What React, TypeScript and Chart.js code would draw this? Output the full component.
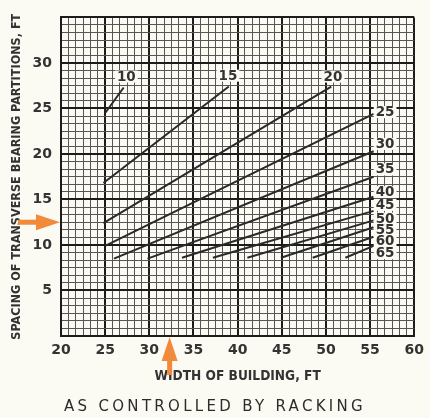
import React, { useEffect, useRef } from "react";
import { Chart, registerables } from "chart.js";

Chart.register(...registerables);

// ---- data ----
const xTickLabels = [20, 25, 30, 35, 40, 45, 50, 55, 60];
const yTickLabels = [5, 10, 15, 20, 25, 30];
const seriesNames = ["10", "15", "20", "25", "30", "35", "40", "45", "50", "55", "60", "65"];
const startX = [25, 24.8, 24.8, 25, 26, 29.8, 33.7, 37.2, 41.1, 44.9, 48.5, 52.2];
const startY = [24.5, 16.8, 12.4, 9.9, 8.5, 8.5, 8.6, 8.6, 8.6, 8.6, 8.6, 8.6];
const endX = [27.1, 39, 50.6, 55.4, 55.4, 55.4, 55.4, 55.4, 55.4, 55.4, 55.4, 55.4];
const endY = [27.3, 27.4, 27.4, 24.4, 20.3, 17.5, 15.3, 13.75, 12.7, 11.95, 10.9, 9.9];
const labelX = [27.4, 38.9, 50.8, 56.7, 56.7, 56.7, 56.7, 56.7, 56.7, 56.7, 56.7, 56.7];
const labelY = [28.5, 28.6, 28.5, 24.6, 21.1, 18.3, 15.8, 14.4, 12.9, 11.6, 10.4, 9.1];
const markedSpacing = 12.5;
const markedWidth = 32.3;

const X_MIN = 20, X_MAX = 60, Y_MIN = 0, Y_MAX = 35;
const MINOR_PER_MAJOR = 6;

const BG = "#fcfbf3";
const INK = "#2a2a2a";
const TEXT = "#333333";
const ORANGE = "#f28a3c";
const NUM_FONT = "'DejaVu Sans', sans-serif";
const COND_FONT = "'DejaVu Sans Condensed', 'DejaVu Sans', sans-serif";

const isMajor = (v: number) => Math.abs(v / 5 - Math.round(v / 5)) < 1e-6;
const inList = (list: number[], v: number) => list.some((t) => Math.abs(t - v) < 1e-6);

function gridTicks(min: number, max: number) {
  const out: { value: number }[] = [];
  const step = 5 / MINOR_PER_MAJOR;
  const n = Math.round((max - min) / step);
  for (let i = 0; i <= n; i++) out.push({ value: min + i * step });
  return out;
}

const decor = {
  id: "decor",
  beforeDraw(chart: any) {
    const { ctx, width, height } = chart;
    ctx.save();
    ctx.fillStyle = BG;
    ctx.fillRect(0, 0, width, height);
    ctx.restore();
  },
  afterDatasetsDraw(chart: any) {
    const { ctx, scales } = chart;
    ctx.save();
    ctx.font = `bold 13.5px ${NUM_FONT}`;
    ctx.textAlign = "center";
    ctx.textBaseline = "middle";
    seriesNames.forEach((name, i) => {
      const px = scales.x.getPixelForValue(labelX[i]);
      const py = scales.y.getPixelForValue(labelY[i]);
      const w = ctx.measureText(name).width;
      ctx.fillStyle = BG;
      ctx.fillRect(px - w / 2 - 2, py - 6, w + 4, 12);
      ctx.fillStyle = TEXT;
      ctx.fillText(name, px, py + 0.5);
    });
    ctx.restore();
  },
  afterDraw(chart: any) {
    const { ctx, scales, chartArea } = chart;
    ctx.save();
    ctx.fillStyle = ORANGE;
    // left arrow
    const ly = scales.y.getPixelForValue(markedSpacing);
    const lt = chartArea.left - 1;
    ctx.fillRect(18, ly - 2.5, lt - 22 - 18, 5);
    ctx.beginPath();
    ctx.moveTo(lt, ly);
    ctx.lineTo(lt - 24, ly - 8);
    ctx.lineTo(lt - 24, ly + 8);
    ctx.closePath();
    ctx.fill();
    // bottom arrow
    const bx = scales.x.getPixelForValue(markedWidth);
    const bt = chartArea.bottom + 1;
    ctx.fillRect(bx - 2.5, bt + 22, 5, 16);
    ctx.beginPath();
    ctx.moveTo(bx, bt);
    ctx.lineTo(bx - 8, bt + 24);
    ctx.lineTo(bx + 8, bt + 24);
    ctx.closePath();
    ctx.fill();
    // caption
    ctx.fillStyle = "#2c2c2c";
    ctx.font = `15px ${NUM_FONT}`;
    (ctx as any).letterSpacing = "3.3px";
    ctx.textAlign = "center";
    ctx.textBaseline = "middle";
    ctx.fillText("AS CONTROLLED BY RACKING", 215, 407);
    ctx.restore();
  },
};

export default function App() {
  const ref = useRef<HTMLCanvasElement>(null);
  useEffect(() => {
    document.body.style.margin = "0";
    document.body.style.background = BG;
    const datasets = seriesNames.map((name, i) => ({
      label: name,
      data: [
        { x: startX[i], y: startY[i] },
        { x: endX[i], y: endY[i] },
      ],
      borderColor: INK,
      borderWidth: 2,
      pointRadius: 0,
      fill: false,
      tension: 0,
    }));
    const gridColor = (c: any) => (c.tick && isMajor(c.tick.value) ? "#1c1c1c" : "#555");
    const gridWidth = (c: any) => (c.tick && isMajor(c.tick.value) ? 2 : 1);
    const chart = new Chart(ref.current!, {
      type: "line",
      data: { datasets },
      plugins: [decor],
      options: {
        animation: false,
        responsive: false,
        events: [],
        layout: { padding: { top: 12, right: 8, bottom: 0, left: 0 } },
        plugins: { legend: { display: false }, tooltip: { enabled: false } },
        scales: {
          x: {
            type: "linear",
            min: X_MIN,
            max: X_MAX,
            afterBuildTicks: (s: any) => {
              s.ticks = gridTicks(X_MIN, X_MAX);
            },
            afterFit: (s: any) => {
              s.height = 82;
            },
            ticks: {
              autoSkip: false,
              maxRotation: 0,
              padding: 6,
              color: TEXT,
              font: { family: NUM_FONT, size: 14, weight: "bold" },
              callback: (v: any) => (inList(xTickLabels, Number(v)) ? String(Math.round(Number(v))) : ""),
            },
            grid: { drawTicks: false, color: gridColor, lineWidth: gridWidth },
            border: { display: true, color: "#1c1c1c", width: 2 },
            title: {
              display: true,
              text: "WIDTH OF BUILDING, FT",
              color: TEXT,
              font: { family: COND_FONT, size: 13.6, weight: "bold" },
              padding: { top: 0, bottom: 33 },
            },
          },
          y: {
            type: "linear",
            min: Y_MIN,
            max: Y_MAX,
            afterBuildTicks: (s: any) => {
              s.ticks = gridTicks(Y_MIN, Y_MAX);
            },
            afterFit: (s: any) => {
              s.width = 61;
            },
            ticks: {
              autoSkip: false,
              padding: 9,
              color: TEXT,
              font: { family: NUM_FONT, size: 14, weight: "bold" },
              callback: (v: any) => (inList(yTickLabels, Number(v)) ? String(Math.round(Number(v))) : ""),
            },
            grid: { drawTicks: false, color: gridColor, lineWidth: gridWidth },
            border: { display: true, color: "#1c1c1c", width: 2 },
            title: {
              display: true,
              text: "SPACING OF TRANSVERSE BEARING PARTITIONS, FT",
              color: TEXT,
              font: { family: COND_FONT, size: 12.5, weight: "bold" },
              padding: { top: 9.5, bottom: 0 },
            },
          },
        },
      } as any,
    });
    return () => chart.destroy();
  }, []);
  return (
    <div style={{ width: 430, height: 418 }}>
      <canvas ref={ref} width={430} height={418} style={{ display: "block" }} />
    </div>
  );
}
